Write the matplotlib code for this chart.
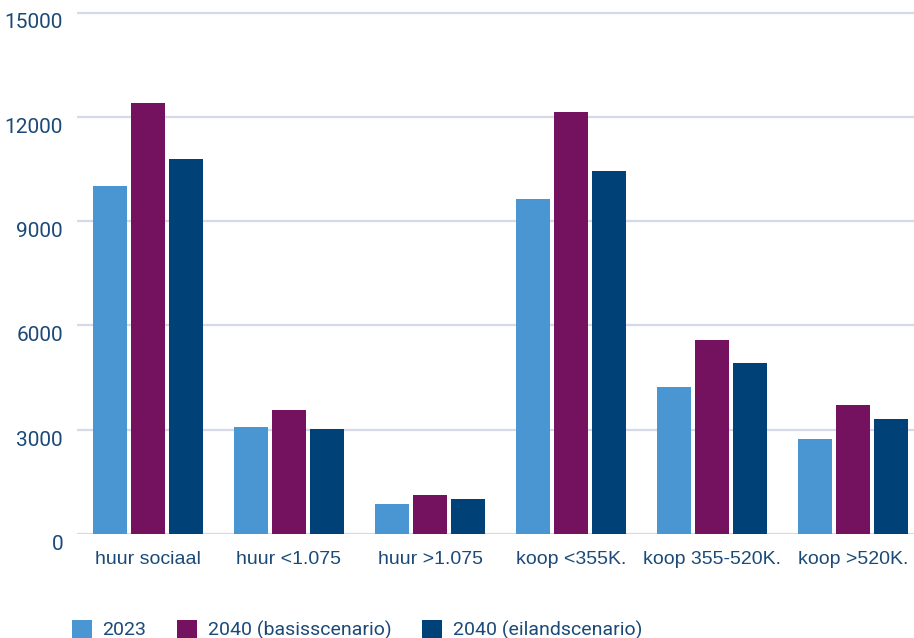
import matplotlib
matplotlib.use("Agg")
import matplotlib.pyplot as plt
import matplotlib.transforms as mtransforms
import numpy as np

categories = ["huur sociaal", "huur <1.075", "huur >1.075",
              "koop <355K.", "koop 355-520K.", "koop >520K."]
series_names = ["2023", "2040 (basisscenario)", "2040 (eilandscenario)"]
values_2023 = [10000, 3080, 860, 9640, 4230, 2730]
values_2040_basis = [12400, 3570, 1120, 12140, 5580, 3710]
values_2040_eiland = [10800, 3020, 1010, 10450, 4920, 3310]
y_ticks = [0, 3000, 6000, 9000, 12000, 15000]

colors = ["#4A96D2", "#74125F", "#004278"]
text_color = "#1B4A78"
grid_color = "#D5D9E8"

W, H = 914, 638
fig = plt.figure(figsize=(W / 100, H / 100), dpi=100)

# axes placed in pixel units
ax_left, ax_right = 77, 914
y0_px, y15k_px = 534, 12.5
ymax = 15200
px_per_unit = (y0_px - y15k_px) / 15000
ax_top = y0_px - ymax * px_per_unit
ax = fig.add_axes([ax_left / W, (H - y0_px) / H,
                   (ax_right - ax_left) / W, (y0_px - ax_top) / H])

step_px = 141
first_center_px = 148
x = np.arange(len(categories))
ax.set_xlim((ax_left - first_center_px) / step_px,
            (ax_right - first_center_px) / step_px)
ax.set_ylim(0, ymax)

bar_w = 34 / step_px
offset = 38 / step_px
all_series = [values_2023, values_2040_basis, values_2040_eiland]
for i, (vals, name, c) in enumerate(zip(all_series, series_names, colors)):
    ax.bar(x + (i - 1) * offset, vals, width=bar_w, color=c, label=name,
           zorder=3, linewidth=0)

ax.set_yticks(y_ticks)
ax.set_yticklabels([str(v) for v in y_ticks])
ax.grid(axis="y", color=grid_color, linewidth=1.6, zorder=0)
ax.set_axisbelow(True)
for s in ax.spines.values():
    s.set_visible(False)

ax.tick_params(axis="y", length=0, pad=10, labelcolor=text_color,
               labelsize=15)
for lab in ax.get_yticklabels():
    lab.set_fontfamily("Roboto")
    lab.set_transform(lab.get_transform() +
                      mtransforms.ScaledTranslation(0, -8.5 / 100, fig.dpi_scale_trans))

ax.set_xticks(x)
ax.set_xticklabels(categories, fontfamily="Liberation Sans", fontsize=14,
                   color=text_color)
ax.tick_params(axis="x", length=0, pad=12)

leg = fig.legend(loc="lower left", bbox_to_anchor=(54 / W, -19 / H),
                 ncol=3, frameon=False, handlelength=1.05, handleheight=1.05,
                 handletextpad=0.55, columnspacing=1.55,
                 prop={"family": "Roboto", "size": 14})
for t in leg.get_texts():
    t.set_color(text_color)

fig.savefig("out.png", dpi=100, facecolor="white")
